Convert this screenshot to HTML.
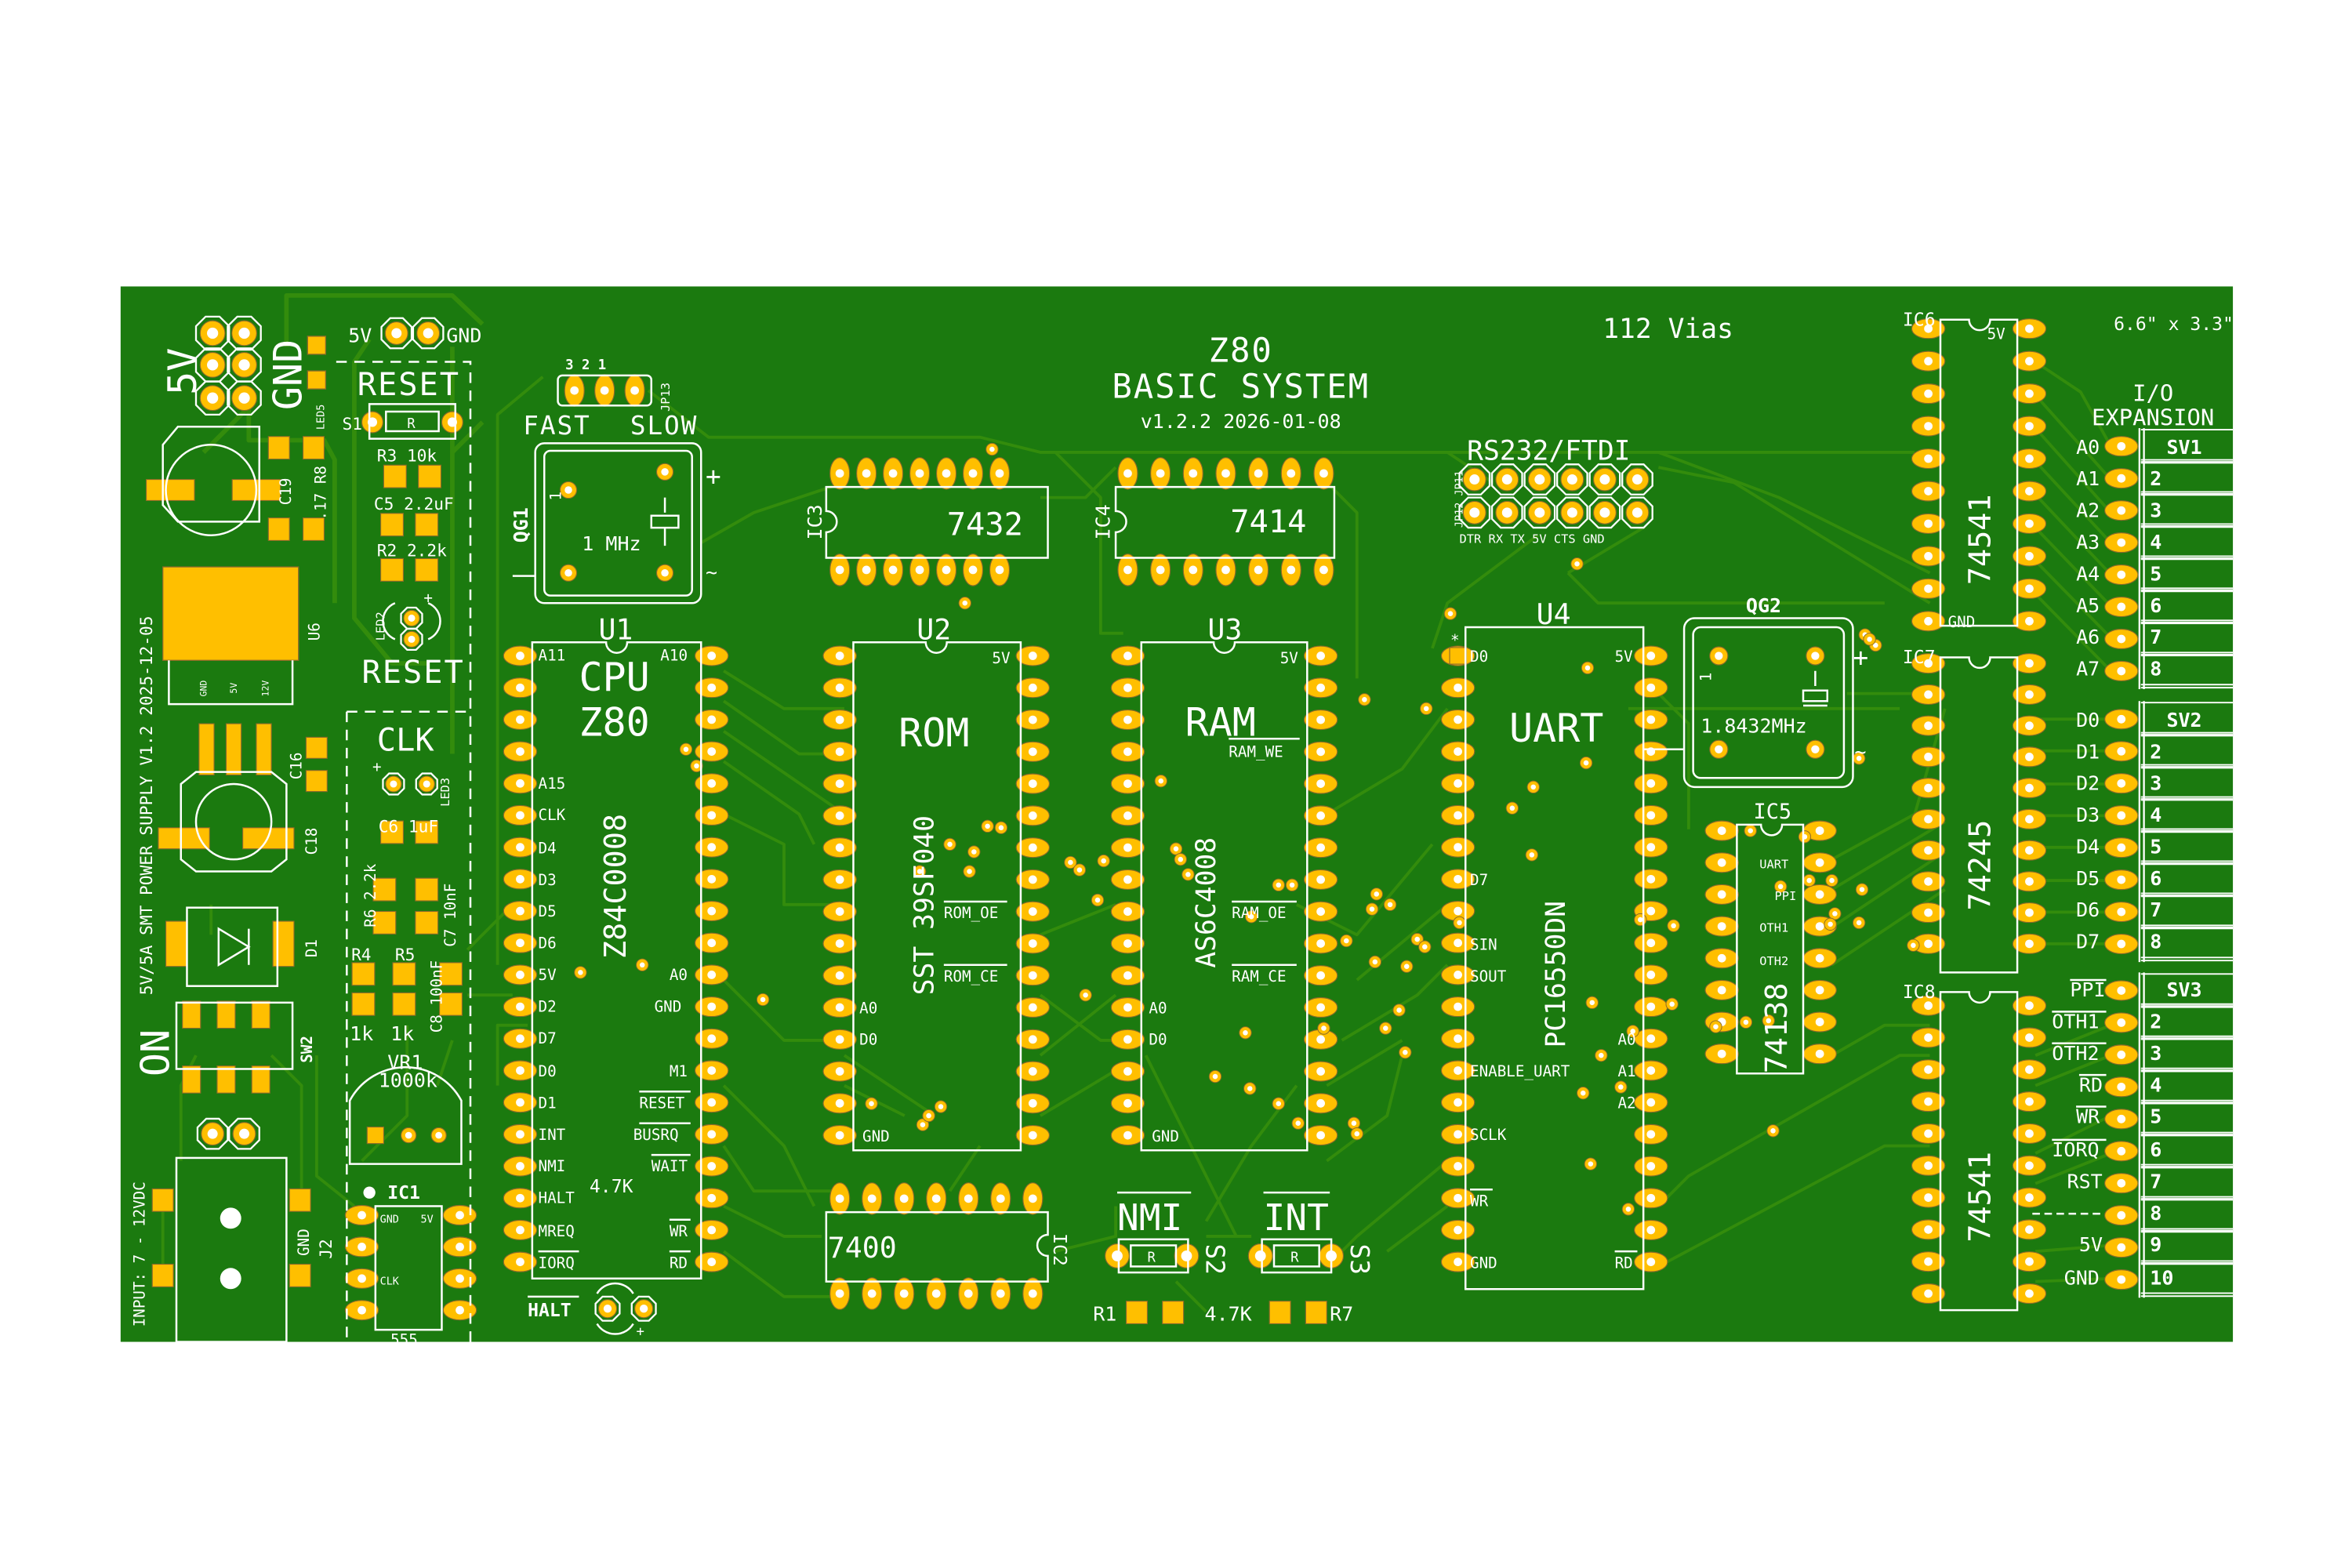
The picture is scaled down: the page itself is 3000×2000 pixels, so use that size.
<!DOCTYPE html>
<html><head><meta charset="utf-8"><style>
html,body{margin:0;padding:0;background:#fff;}
svg{display:block;}
text{font-family:"DejaVu Sans Mono","Liberation Mono",monospace;fill:#fff;}
.s{fill:none;stroke:#fff;stroke-width:1.3;}
.tr{fill:none;stroke:#338c0c;stroke-width:3;stroke-linejoin:round;}
.trt{fill:none;stroke:#338c0c;stroke-width:2;stroke-linejoin:round;}
</style></head><body>
<svg id="b" width="3000" height="2000" viewBox="0 0 1560 1040" preserveAspectRatio="none" xmlns="http://www.w3.org/2000/svg">
<rect x="0" y="0" width="1560" height="1040" fill="#fff"/>
<rect x="80" y="190" width="1401" height="700" fill="#1b7a0f"/>
<g id="traces">
<path class="tr" d="M190 230 V196 H300 L320 215"/>
<path class="tr" d="M170 265 L135 300"/>
<path class="tr" d="M165 265 V292 H215 L222 305 V400"/>
<path class="tr" d="M245 225 L235 240 V410 L260 440 H285"/>
<path class="tr" d="M300 230 V500"/>
<path class="trt" d="M360 250 L330 275 V640"/>
<path class="tr" d="M320 280 L300 300"/>
<path class="trt" d="M430 259 L470 290 H650 L690 300 H1270"/>
<path class="trt" d="M465 360 L500 340 L560 320"/>
<path class="trt" d="M480 445 L520 470 H560"/>
<path class="trt" d="M480 465 L530 500 H560"/>
<path class="trt" d="M480 485 L560 540"/>
<path class="trt" d="M480 505 L530 540 L540 560"/>
<path class="trt" d="M480 540 L520 560 V600 H560"/>
<path class="trt" d="M690 330 H720 L740 310"/>
<path class="trt" d="M700 300 L730 330 V420 H745"/>
<path class="trt" d="M880 320 L900 340 V450"/>
<path class="trt" d="M890 300 H960 L990 320"/>
<path class="trt" d="M1100 310 L1150 320 L1280 400"/>
<path class="trt" d="M1100 300 L1180 330 L1280 380"/>
<path class="trt" d="M1020 355 L960 400 L950 430"/>
<path class="trt" d="M1090 350 L1040 380"/>
<path class="trt" d="M1350 240 L1380 260 L1400 296"/>
<path class="trt" d="M1350 262 L1400 318"/>
<path class="trt" d="M1350 284 L1400 340"/>
<path class="trt" d="M1350 306 L1400 360"/>
<path class="trt" d="M1350 328 L1400 381"/>
<path class="trt" d="M1350 350 L1400 402"/>
<path class="trt" d="M1350 372 L1400 423"/>
<path class="trt" d="M1350 394 L1400 445"/>
<path class="trt" d="M1350 477 H1400"/>
<path class="trt" d="M1350 498 H1400"/>
<path class="trt" d="M1350 520 H1400"/>
<path class="trt" d="M1350 541 H1400"/>
<path class="trt" d="M1350 562 H1400"/>
<path class="trt" d="M1350 584 H1400"/>
<path class="trt" d="M1350 605 H1400"/>
<path class="trt" d="M1350 626 H1400"/>
<path class="trt" d="M1350 700 L1400 680"/>
<path class="trt" d="M1350 720 L1400 700"/>
<path class="trt" d="M1350 765 L1400 740"/>
<path class="trt" d="M1350 785 L1400 765"/>
<path class="trt" d="M1350 830 L1400 826"/>
<path class="trt" d="M1350 850 L1400 848"/>
<path class="trt" d="M1215 570 L1270 540 L1290 470"/>
<path class="trt" d="M1215 590 L1290 545"/>
<path class="trt" d="M1215 615 L1290 565"/>
<path class="trt" d="M1215 640 L1290 590"/>
<path class="trt" d="M1215 700 L1250 680 H1280"/>
<path class="trt" d="M1100 460 L1120 480 V550"/>
<path class="trt" d="M1100 800 L1120 780 L1260 700 H1280"/>
<path class="trt" d="M1100 840 L1250 760 H1280"/>
<path class="trt" d="M1040 380 L1060 400 H1250"/>
<path class="trt" d="M1080 470 L1260 470"/>
<path class="trt" d="M1225 460 H1280"/>
<path class="trt" d="M900 650 L960 600"/>
<path class="trt" d="M890 690 L940 660 L960 640"/>
<path class="trt" d="M880 720 L930 690"/>
<path class="trt" d="M860 600 L900 620 L950 560"/>
<path class="trt" d="M880 540 L930 510 L960 470"/>
<path class="trt" d="M880 770 L920 740 L930 700"/>
<path class="trt" d="M690 620 L740 600"/>
<path class="trt" d="M690 660 L730 690 H745"/>
<path class="trt" d="M690 700 L740 660"/>
<path class="trt" d="M690 740 L740 710"/>
<path class="trt" d="M560 700 L590 720 L620 740"/>
<path class="trt" d="M560 720 L600 740"/>
<path class="trt" d="M480 650 L520 690 L560 690"/>
<path class="trt" d="M480 720 L520 760 L540 800"/>
<path class="trt" d="M480 760 L500 790 L560 790"/>
<path class="trt" d="M480 800 L520 820 H545"/>
<path class="trt" d="M480 830 L520 860 H560"/>
<path class="trt" d="M700 830 L740 820 V800"/>
<path class="trt" d="M630 790 L650 760"/>
<path class="trt" d="M760 700 L790 760 L820 820"/>
<path class="trt" d="M860 720 L830 760 L800 810"/>
<path class="trt" d="M830 820 H800"/>
<path class="trt" d="M880 840 L900 820 L960 770"/>
<path class="trt" d="M920 830 L960 800"/>
<path class="trt" d="M780 850 L800 870"/>
<path class="trt" d="M235 800 L210 780 V700"/>
<path class="trt" d="M240 770 L270 740 V680"/>
<path class="trt" d="M310 660 H340"/>
<path class="trt" d="M310 630 L340 600"/>
<path class="trt" d="M140 620 V600"/>
<path class="trt" d="M108 845 V800"/>
<path class="trt" d="M200 790 V720 L180 700"/>
<path class="trt" d="M350 680 H330 V720"/>
<path class="trt" d="M130 700 L120 720 V770"/>
<path class="trt" d="M300 690 L290 720"/>
</g>
<g id="pads"></g>
<g id="silk">
<!-- top-left power header -->
<text x="0" y="0" font-size="26" transform="translate(130,262) rotate(-90)" font-family="Liberation Sans">5V</text>
<text x="0" y="0" font-size="26" transform="translate(200,272) rotate(-90)" font-family="Liberation Sans">GND</text>
<rect x="204" y="223" width="12" height="12" fill="#ffbf00" stroke="#8a6a2a" stroke-width="0.7"/>
<rect x="204" y="246" width="12" height="12" fill="#ffbf00" stroke="#8a6a2a" stroke-width="0.7"/>
<text x="0" y="0" font-size="7" transform="translate(215,285) rotate(-90)">LED5</text>
<text x="231" y="227" font-size="13">5V</text>
<text x="296" y="227" font-size="13">GND</text>
<path class="s" d="M223 240 H312 V890" stroke-dasharray="7 5"/>
<text x="237" y="262" font-size="21" font-family="Liberation Sans" letter-spacing="1">RESET</text>
<rect class="s" x="245" y="268" width="57" height="23"/>
<rect class="s" x="256" y="273" width="35" height="13"/>
<text x="270" y="284" font-size="9">R</text>
<text x="227" y="285" font-size="11">S1</text>
<text x="250" y="306" font-size="11">R3 10k</text>
<text x="248" y="338" font-size="11">C5 2.2uF</text>
<text x="250" y="369" font-size="11">R2 2.2k</text>
<text x="240" y="453" font-size="21" font-family="Liberation Sans" letter-spacing="1">RESET</text>
<text x="0" y="0" font-size="8" transform="translate(255,425) rotate(-90)">LED2</text>
<text x="281" y="400" font-size="10">+</text>
<path class="s" d="M262 400 A13 13 0 0 0 262 424 M284 400 A13 13 0 0 1 284 424"/>
<path class="s" d="M230 472 V890 M230 472 H312" stroke-dasharray="7 5"/>
<text x="250" y="498" font-size="21" font-family="Liberation Sans">CLK</text>
<text x="247" y="512" font-size="10">+</text>
<text x="0" y="0" font-size="8" transform="translate(298,535) rotate(-90)">LED3</text>
<text x="251" y="552" font-size="11">C6 1uF</text>
<text x="0" y="0" font-size="10" transform="translate(249,615) rotate(-90)">R6 2.2k</text>
<text x="0" y="0" font-size="10" transform="translate(302,628) rotate(-90)">C7 10nF</text>
<text x="233" y="637" font-size="11">R4</text>
<text x="262" y="637" font-size="11">R5</text>
<text x="0" y="0" font-size="10" transform="translate(293,685) rotate(-90)">C8 100nF</text>
<text x="232" y="690" font-size="13">1k</text>
<text x="259" y="690" font-size="13">1k</text>
<path class="s" d="M232 772 V730 A42 42 0 0 1 306 730 V772 Z"/>
<text x="257" y="709" font-size="13">VR1</text>
<text x="251" y="721" font-size="13">1000k</text>
<circle cx="245" cy="791" r="4" fill="#fff"/>
<text x="257" y="795" font-size="12" font-weight="bold">IC1</text>
<rect class="s" x="249" y="800" width="44" height="82"/>
<text x="252" y="811" font-size="7">GND</text>
<text x="279" y="811" font-size="7">5V</text>
<text x="252" y="852" font-size="7">CLK</text>
<text x="259" y="892" font-size="10">555</text>
<!-- power supply -->
<path class="s" d="M108 295 L118 283 H172 V346 H118 L108 335 Z"/>
<circle class="s" cx="140" cy="325" r="30"/>
<text x="0" y="0" font-size="10" transform="translate(193,335) rotate(-90)">C19</text>
<text x="0" y="0" font-size="10" transform="translate(216,345) rotate(-90)">.17 R8</text>
<rect x="108" y="376" width="90" height="62" fill="#ffbf00" stroke="#8a6a2a" stroke-width="0.7"/>
<path class="s" d="M112 438 V467 H194 V438"/>
<text x="0" y="0" font-size="6" transform="translate(137,462) rotate(-90)">GND</text>
<text x="0" y="0" font-size="6" transform="translate(157,460) rotate(-90)">5V</text>
<text x="0" y="0" font-size="6" transform="translate(178,462) rotate(-90)">12V</text>
<text x="0" y="0" font-size="10" transform="translate(212,425) rotate(-90)">U6</text>
<text x="0" y="0" font-size="11" transform="translate(101,660) rotate(-90)">5V/5A SMT POWER SUPPLY  V1.2 2025-12-05</text>
<path class="s" d="M120 520 L130 512 H180 L190 520 V570 L180 578 H130 L120 570 Z"/>
<circle class="s" cx="155" cy="545" r="25"/>
<text x="0" y="0" font-size="10" transform="translate(200,517) rotate(-90)">C16</text>
<text x="0" y="0" font-size="10" transform="translate(210,567) rotate(-90)">C18</text>
<rect class="s" x="124" y="602" width="60" height="52"/>
<path class="s" d="M145 616 V640 L165 628 Z M165 616 V640"/>
<text x="0" y="0" font-size="10" transform="translate(210,635) rotate(-90)">D1</text>
<rect class="s" x="117" y="665" width="77" height="44"/>
<text x="0" y="0" font-size="10" transform="translate(207,705) rotate(-90)" font-weight="bold">SW2</text>
<text x="0" y="0" font-size="26" transform="translate(112,714) rotate(-90)" font-family="Liberation Sans">ON</text>
<rect class="s" x="117" y="768" width="73" height="122"/>
<circle cx="153" cy="808" r="7" fill="#fff"/>
<circle cx="153" cy="848" r="7" fill="#fff"/>
<text x="0" y="0" font-size="10" transform="translate(96,880) rotate(-90)">INPUT: 7 - 12VDC</text>
<text x="0" y="0" font-size="10" transform="translate(205,833) rotate(-90)">GND</text>
<text x="0" y="0" font-size="11" transform="translate(220,835) rotate(-90)">J2</text>
<!-- JP13 / QG1 -->
<text x="375" y="245" font-size="9" font-weight="bold">3  2  1</text>
<rect class="s" x="370" y="249" width="62" height="20" rx="3"/>
<text x="0" y="0" font-size="8" transform="translate(444,273) rotate(-90)">JP13</text>
<text x="347" y="288" font-size="17" font-family="Liberation Sans" letter-spacing="1">FAST</text>
<text x="418" y="288" font-size="17" font-family="Liberation Sans" letter-spacing="1">SLOW</text>
<rect class="s" x="355" y="294" width="110" height="106" rx="6"/>
<rect class="s" x="361" y="299" width="98" height="96" rx="4"/>
<text x="0" y="0" font-size="13" transform="translate(350,360) rotate(-90)" font-weight="bold">QG1</text>
<text x="0" y="0" font-size="10" transform="translate(372,332) rotate(-90)">1</text>
<text x="386" y="365" font-size="13">1 MHz</text>
<path class="s" d="M441 330 V340 M432 342 H450 V350 H432 Z M441 350 V362"/>
<text x="468" y="322" font-size="17">+</text>
<text x="468" y="384" font-size="13">~</text>
<path class="s" d="M340 382 H355"/>
<!-- U1 -->
<path class="s" d="M353 426 H402 A7 7 0 0 0 416 426 H465 V848 H353 Z"/>
<text x="397" y="424" font-size="19" font-family="Liberation Sans">U1</text>
<text x="384" y="458" font-size="26" font-family="Liberation Sans">CPU</text>
<text x="384" y="488" font-size="26" font-family="Liberation Sans">Z80</text>
<text x="0" y="0" font-size="20" transform="translate(415,636) rotate(-90)">Z84C0008</text>
<text x="357" y="438" font-size="10">A11</text><text x="438" y="438" font-size="10">A10</text>
<text x="357" y="523" font-size="10">A15</text>
<text x="357" y="544" font-size="10">CLK</text>
<text x="357" y="566" font-size="10">D4</text>
<text x="357" y="587" font-size="10">D3</text>
<text x="357" y="608" font-size="10">D5</text>
<text x="357" y="629" font-size="10">D6</text>
<text x="357" y="650" font-size="10">5V</text><text x="444" y="650" font-size="10">A0</text>
<text x="357" y="671" font-size="10">D2</text><text x="434" y="671" font-size="10">GND</text>
<text x="357" y="692" font-size="10">D7</text>
<text x="357" y="714" font-size="10">D0</text><text x="444" y="714" font-size="10">M1</text>
<text x="357" y="735" font-size="10">D1</text><text x="424" y="735" font-size="10">RESET</text>
<text x="357" y="756" font-size="10">INT</text><text x="420" y="756" font-size="10">BUSRQ</text>
<text x="357" y="777" font-size="10">NMI</text><text x="432" y="777" font-size="10">WAIT</text>
<text x="357" y="798" font-size="10">HALT</text>
<text x="357" y="820" font-size="10">MREQ</text><text x="444" y="820" font-size="10">WR</text>
<text x="357" y="841" font-size="10">IORQ</text><text x="444" y="841" font-size="10">RD</text>
<path class="s" d="M424 724 H458 M424 745 H458 M432 766 H458 M444 809 H458 M444 830 H458 M357 830 H384"/>
<text x="391" y="791" font-size="12">4.7K</text>
<text x="350" y="873" font-size="12" font-weight="bold">HALT</text>
<path class="s" d="M350 860 H384"/>
<path class="s" d="M396 858 A14 14 0 0 1 420 858 M396 878 A14 14 0 0 0 420 878"/>
<text x="422" y="886" font-size="9">+</text>
<!-- IC3 7432 -->
<path class="s" d="M548 323 H695 V370 H548 V353 A7 7 0 0 0 548 339 Z"/>
<text x="0" y="0" font-size="13" transform="translate(545,358) rotate(-90)">IC3</text>
<text x="628" y="355" font-size="21">7432</text>
<!-- IC4 7414 -->
<path class="s" d="M740 323 H885 V370 H740 V353 A7 7 0 0 0 740 339 Z"/>
<text x="0" y="0" font-size="13" transform="translate(736,358) rotate(-90)">IC4</text>
<text x="816" y="353" font-size="21">7414</text>
<!-- U2 ROM -->
<path class="s" d="M566 426 H614 A7 7 0 0 0 628 426 H677 V763 H566 Z"/>
<text x="608" y="424" font-size="19" font-family="Liberation Sans">U2</text>
<text x="596" y="495" font-size="26" font-family="Liberation Sans">ROM</text>
<text x="658" y="440" font-size="10">5V</text>
<text x="0" y="0" font-size="18" transform="translate(619,660) rotate(-90)">SST 39SF040</text>
<text x="626" y="609" font-size="10">ROM_OE</text>
<text x="626" y="651" font-size="10">ROM_CE</text>
<path class="s" d="M626 598 H668 M626 640 H668"/>
<text x="570" y="672" font-size="10">A0</text>
<text x="570" y="693" font-size="10">D0</text>
<text x="572" y="757" font-size="10">GND</text>
<!-- U3 RAM -->
<path class="s" d="M757 426 H805 A7 7 0 0 0 819 426 H867 V763 H757 Z"/>
<text x="801" y="424" font-size="19" font-family="Liberation Sans">U3</text>
<text x="786" y="488" font-size="26" font-family="Liberation Sans">RAM</text>
<text x="849" y="440" font-size="10">5V</text>
<text x="815" y="502" font-size="10">RAM_WE</text>
<text x="0" y="0" font-size="18" transform="translate(806,642) rotate(-90)">AS6C4008</text>
<text x="817" y="609" font-size="10">RAM_OE</text>
<text x="817" y="651" font-size="10">RAM_CE</text>
<path class="s" d="M815 490 H862 M817 598 H860 M817 640 H860"/>
<text x="762" y="672" font-size="10">A0</text>
<text x="762" y="693" font-size="10">D0</text>
<text x="764" y="757" font-size="10">GND</text>
<!-- IC2 7400 -->
<path class="s" d="M548 804 H695 V819 A7 7 0 0 0 695 833 V850 H548 Z"/>
<text x="549" y="834" font-size="19">7400</text>
<text x="0" y="0" font-size="12" transform="translate(699,818) rotate(90)">IC2</text>
<!-- NMI INT -->
<text x="741" y="816" font-size="24" font-family="Liberation Sans">NMI</text>
<path class="s" d="M741 791 H790 M838 791 H882"/>
<text x="838" y="816" font-size="24" font-family="Liberation Sans">INT</text>
<rect class="s" x="742" y="822" width="46" height="22"/>
<rect class="s" x="750" y="826" width="30" height="14"/>
<text x="761" y="837" font-size="9">R</text>
<rect class="s" x="837" y="822" width="46" height="22"/>
<rect class="s" x="845" y="826" width="30" height="14"/>
<text x="856" y="837" font-size="9">R</text>
<text x="0" y="0" font-size="17" transform="translate(800,825) rotate(90)">S2</text>
<text x="0" y="0" font-size="17" transform="translate(896,825) rotate(90)">S3</text>
<text x="725" y="876" font-size="13">R1</text>
<rect x="747" y="863" width="14" height="15" fill="#ffbf00" stroke="#8a6a2a" stroke-width="0.6"/>
<rect x="771" y="863" width="14" height="15" fill="#ffbf00" stroke="#8a6a2a" stroke-width="0.6"/>
<text x="799" y="876" font-size="13">4.7K</text>
<rect x="842" y="863" width="14" height="15" fill="#ffbf00" stroke="#8a6a2a" stroke-width="0.6"/>
<rect x="866" y="863" width="14" height="15" fill="#ffbf00" stroke="#8a6a2a" stroke-width="0.6"/>
<text x="882" y="876" font-size="13">R7</text>
<!-- title -->
<text x="823" y="240" font-size="22" text-anchor="middle" font-family="Liberation Sans" letter-spacing="1">Z80</text>
<text x="823" y="264" font-size="22" text-anchor="middle" font-family="Liberation Sans" letter-spacing="1">BASIC SYSTEM</text>
<text x="823" y="284" font-size="13" text-anchor="middle">v1.2.2  2026-01-08</text>
<text x="1063" y="224" font-size="18">112 Vias</text>
<text x="1402" y="219" font-size="12">6.6" x 3.3"</text>
<!-- RS232 -->
<text x="973" y="305" font-size="18" font-family="Liberation Sans">RS232/FTDI</text>
<text x="0" y="0" font-size="7" transform="translate(970,350) rotate(-90)">JP12 JP11</text>
<text x="968" y="360" font-size="8">DTR RX  TX  5V CTS GND</text>
<!-- U4 UART -->
<path class="s" d="M972 416 H1090 V855 H972 Z"/>
<text x="1019" y="414" font-size="19" font-family="Liberation Sans">U4</text>
<text x="1001" y="492" font-size="26" font-family="Liberation Sans">UART</text>
<text x="962" y="428" font-size="10">*</text>
<text x="975" y="439" font-size="10">D0</text><text x="1071" y="439" font-size="10">5V</text>
<text x="975" y="587" font-size="10">D7</text>
<text x="975" y="630" font-size="10">SIN</text>
<text x="975" y="651" font-size="10">SOUT</text>
<text x="0" y="0" font-size="18" transform="translate(1038,695) rotate(-90)">PC16550DN</text>
<text x="975" y="714" font-size="10">ENABLE_UART</text>
<text x="1073" y="693" font-size="10">A0</text>
<text x="1073" y="714" font-size="10">A1</text>
<text x="1073" y="735" font-size="10">A2</text>
<text x="975" y="756" font-size="10">SCLK</text>
<text x="975" y="800" font-size="10">WR</text>
<text x="975" y="841" font-size="10">GND</text><text x="1071" y="841" font-size="10">RD</text>
<path class="s" d="M975 789 H990 M1071 830 H1086"/>
<!-- QG2 -->
<text x="1158" y="406" font-size="13" font-weight="bold">QG2</text>
<rect class="s" x="1117" y="410" width="112" height="112" rx="7"/>
<rect class="s" x="1123" y="416" width="100" height="100" rx="5"/>
<text x="0" y="0" font-size="10" transform="translate(1135,452) rotate(-90)">1</text>
<text x="1128" y="486" font-size="13">1.8432MHz</text>
<path class="s" d="M1204 445 V455 M1196 458 H1212 V465 H1196 Z M1196 468 H1212"/>
<text x="1229" y="442" font-size="17">+</text>
<text x="1230" y="503" font-size="13">~</text>
<path class="s" d="M1090 497 H1117"/>
<!-- IC5 -->
<text x="1163" y="543" font-size="14">IC5</text>
<path class="s" d="M1152 547 H1168 A7 7 0 0 0 1182 547 H1196 V712 H1152 Z"/>
<text x="1167" y="576" font-size="8">UART</text>
<text x="1177" y="597" font-size="8">PPI</text>
<text x="1167" y="618" font-size="8">OTH1</text>
<text x="1167" y="640" font-size="8">OTH2</text>
<text x="0" y="0" font-size="20" transform="translate(1185,712) rotate(-90)">74138</text>
<!-- IC6 IC7 IC8 -->
<text x="1262" y="216" font-size="12">IC6</text>
<path class="s" d="M1287 212 H1306 A7 7 0 0 0 1320 212 H1338 V415 H1287 Z"/>
<text x="1318" y="225" font-size="10">5V</text>
<text x="1292" y="416" font-size="10">GND</text>
<text x="0" y="0" font-size="20" transform="translate(1320,388) rotate(-90)">74541</text>
<text x="1262" y="440" font-size="12">IC7</text>
<path class="s" d="M1287 436 H1306 A7 7 0 0 0 1320 436 H1338 V645 H1287 Z"/>
<text x="0" y="0" font-size="20" transform="translate(1320,604) rotate(-90)">74245</text>
<text x="1262" y="662" font-size="12">IC8</text>
<path class="s" d="M1287 658 H1306 A7 7 0 0 0 1320 658 H1338 V869 H1287 Z"/>
<text x="0" y="0" font-size="20" transform="translate(1320,824) rotate(-90)">74541</text>
<!-- I/O expansion -->
<text x="1428" y="266" font-size="15" text-anchor="middle">I/O</text>
<text x="1428" y="282" font-size="15" text-anchor="middle">EXPANSION</text>
<g font-size="13">
<text x="1377" y="301">A0</text><text x="1377" y="322">A1</text><text x="1377" y="343">A2</text><text x="1377" y="364">A3</text>
<text x="1377" y="385">A4</text><text x="1377" y="406">A5</text><text x="1377" y="427">A6</text><text x="1377" y="448">A7</text>
<text x="1377" y="482">D0</text><text x="1377" y="503">D1</text><text x="1377" y="524">D2</text><text x="1377" y="545">D3</text>
<text x="1377" y="566">D4</text><text x="1377" y="587">D5</text><text x="1377" y="608">D6</text><text x="1377" y="629">D7</text>
<text x="1373" y="661">PPI</text><text x="1361" y="682">OTH1</text><text x="1361" y="703">OTH2</text>
<text x="1379" y="724">RD</text><text x="1377" y="745">WR</text><text x="1361" y="767">IORQ</text>
<text x="1371" y="788">RST</text><text x="1379" y="830">5V</text><text x="1369" y="852">GND</text>
</g>
<path class="s" d="M1373 650 H1397 M1361 671 H1397 M1361 692 H1397 M1379 713 H1397 M1377 734 H1397 M1361 756 H1397"/>
<path class="s" d="M1348 805 H1396" stroke-dasharray="5 3"/>
<g id="hdr"></g>
<g font-size="13" font-weight="bold">
<text x="1437" y="301">SV1</text><text x="1437" y="482">SV2</text><text x="1437" y="661">SV3</text>
<text x="1426" y="322">2</text><text x="1426" y="343">3</text><text x="1426" y="364">4</text><text x="1426" y="385">5</text>
<text x="1426" y="406">6</text><text x="1426" y="427">7</text><text x="1426" y="448">8</text>
<text x="1426" y="503">2</text><text x="1426" y="524">3</text><text x="1426" y="545">4</text><text x="1426" y="566">5</text>
<text x="1426" y="587">6</text><text x="1426" y="608">7</text><text x="1426" y="629">8</text>
<text x="1426" y="682">2</text><text x="1426" y="703">3</text><text x="1426" y="724">4</text><text x="1426" y="745">5</text>
<text x="1426" y="767">6</text><text x="1426" y="788">7</text><text x="1426" y="809">8</text><text x="1426" y="830">9</text><text x="1426" y="852">10</text>
</g>
</g>
</svg>
<script>
(function(){
var NS="http://www.w3.org/2000/svg",P=document.getElementById("pads"),H=document.getElementById("hdr");
function el(t,a,p){var e=document.createElementNS(NS,t);for(var k in a)e.setAttribute(k,a[k]);(p||P).appendChild(e);return e;}
var G="#ffbf00",O="#8a6a2a";
function oval(x,y,v){el("ellipse",{cx:x,cy:y,rx:v?6.5:11,ry:v?10.5:6.5,fill:G,stroke:O,"stroke-width":0.6});el("circle",{cx:x,cy:y,r:2.8,fill:"#fff"});}
function rnd(x,y,r){el("circle",{cx:x,cy:y,r:r||8,fill:G,stroke:O,"stroke-width":0.6});el("circle",{cx:x,cy:y,r:(r||8)*0.45,fill:"#fff"});}
function oct(x,y,s){var d=s*0.42,p=[[x-d,y-s],[x+d,y-s],[x+s,y-d],[x+s,y+d],[x+d,y+s],[x-d,y+s],[x-s,y+d],[x-s,y-d]].map(function(a){return a.join(",")}).join(" ");el("polygon",{points:p,fill:"none",stroke:"#fff","stroke-width":1.2});rnd(x,y,s*0.75);}
function sq(x,y,w,h){el("rect",{x:x-w/2,y:y-h/2,width:w,height:h,fill:G,stroke:O,"stroke-width":0.6});}
function via(x,y){el("circle",{cx:x,cy:y,r:4,fill:G,stroke:O,"stroke-width":0.5});el("circle",{cx:x,cy:y,r:1.7,fill:"#fff"});}
var i;
// DIP columns
function col(x,y0,y1,n){for(i=0;i<n;i++)oval(x,y0+(y1-y0)*i/(n-1));}
col(345,435,837,20);col(472,435,837,20);
col(557,435,753,16);col(685,435,753,16);
col(748,435,753,16);col(876,435,753,16);
col(967,435,837,20);col(1095,435,837,20);
col(1279,218,412,10);col(1346,218,412,10);
col(1279,440,626,10);col(1346,440,626,10);
col(1279,667,858,10);col(1346,667,858,10);
col(1142,551,699,8);col(1207,551,699,8);
col(240,806,869,4);col(305,806,869,4);
// horizontal DIPs
function row(y,x0,x1,n){for(i=0;i<n;i++)oval(x0+(x1-x0)*i/(n-1),y,true);}
row(314,557,663,7);row(378,557,663,7);
row(314,748,878,7);row(378,748,878,7);
row(795,557,685,7);row(858,557,685,7);
// square pad for U4 pin1
sq(967,435,11,11);
// headers
[[141,221],[162,221],[141,242],[162,242],[141,264],[162,264]].forEach(function(p){oct(p[0],p[1],11);});
oct(263,221,10);oct(284,221,10);
oct(141,752,10);oct(162,752,10);
for(i=0;i<6;i++){oct(978+i*21.6,318,10);oct(978+i*21.6,340,10);}
for(i=0;i<3;i++)oval(381+i*20,259,true);
// SV headers
function sv(y0,n){for(i=0;i<n;i++){var y=y0+i*21.3;oval(1407,y);el("path",{d:"M1420 "+(y-11)+" H1481 M1420 "+(y+9)+" H1481 M1420 "+(y+11)+" H1481",stroke:"#fff","stroke-width":1,fill:"none"},H);}el("path",{d:"M1419 "+(y0-12)+" V"+(y0+(n-1)*21.3+12)+" M1422 "+(y0-12)+" V"+(y0+(n-1)*21.3+12),stroke:"#fff","stroke-width":1.2,fill:"none"},H);}
sv(296,8);sv(477,8);sv(657,10);
// QG pads
rnd(377,325,5.5);rnd(377,380,5.5);rnd(441,313,5.5);rnd(441,380,5.5);
rnd(1140,435,6);rnd(1204,435,6);rnd(1140,497,6);rnd(1204,497,6);
// reset button/resistors
rnd(247,280,7);rnd(300,280,7);
rnd(741,833,8);rnd(787,833,8);rnd(836,833,8);rnd(883,833,8);
// LEDs
oct(273,410,7);oct(273,424,7);oct(261,520,7);oct(283,520,7);oct(403,868,8);oct(427,868,8);
// SMD pads
sq(262,316,15,15);sq(285,316,15,15);
sq(260,348,15,15);sq(283,348,15,15);
sq(260,378,15,15);sq(283,378,15,15);
sq(260,552,15,15);sq(283,552,15,15);
sq(255,590,15,15);sq(283,590,15,15);sq(255,612,15,15);sq(283,612,15,15);
sq(241,646,15,15);sq(268,646,15,15);sq(241,666,15,15);sq(268,666,15,15);sq(299,646,15,15);sq(299,666,15,15);
sq(185,297,14,15);sq(208,297,14,15);sq(185,351,14,15);sq(208,351,14,15);
sq(113,325,32,14);sq(170,325,32,14);
sq(137,497,10,34);sq(155,497,10,34);sq(175,497,10,34);
sq(210,496,14,14);sq(210,518,14,14);
sq(122,556,34,14);sq(178,556,34,14);
sq(117,626,14,30);sq(188,626,14,30);
sq(127,673,12,18);sq(150,673,12,18);sq(173,673,12,18);
sq(127,716,12,18);sq(150,716,12,18);sq(173,716,12,18);
sq(108,796,14,15);sq(108,846,14,15);sq(199,796,14,15);sq(199,846,14,15);
sq(249,753,11,11);rnd(271,753,5);rnd(291,753,5);
// vias
[[658,298],[640,400],[664,549],[710,572],[728,597],[770,518],[780,563],[788,580],[905,464],[946,470],[962,407],[1003,536],[1017,522],[1046,374],[1053,443],[1052,506],[1016,567],[1056,665],[1088,610],[1110,614],[1109,666],[1083,684],[1055,772],[1080,802],[1237,421],[1244,428],[1233,503],[1161,551],[1181,588],[1173,677],[1158,678],[1138,681],[1176,750],[1269,627],[1197,555],[1235,590],[455,497],[462,508],[385,645],[426,640],[506,663],[655,548],[643,578],[646,565],[630,560],[610,578],[624,734],[612,746],[616,740],[578,732],[720,660],[716,577],[732,571],[826,685],[848,587],[857,587],[830,608],[848,732],[861,745],[829,722],[806,714],[878,682],[893,624],[913,593],[910,603],[922,600],[940,623],[933,641],[945,628],[928,670],[912,638],[898,745],[900,752],[919,682],[932,698],[968,612],[1050,725],[1062,700],[1075,721],[1200,584],[1215,584],[1217,606],[1233,612],[1214,613],[1240,424],[783,570]].forEach(function(p){via(p[0],p[1]);});
})();
</script>
</body></html>
